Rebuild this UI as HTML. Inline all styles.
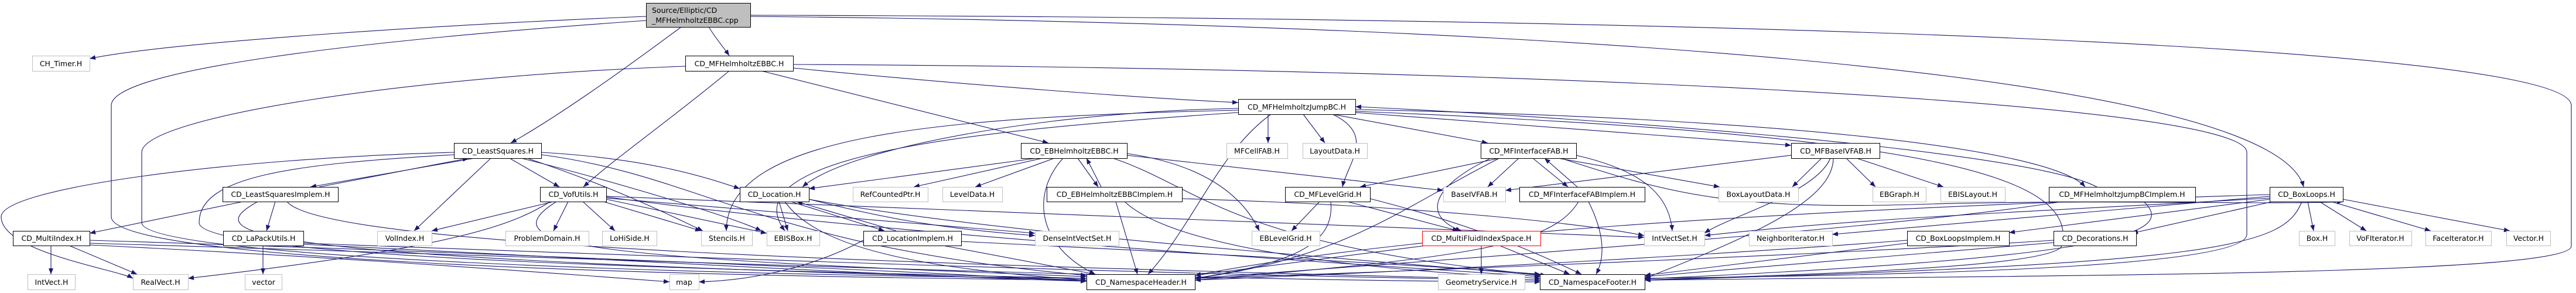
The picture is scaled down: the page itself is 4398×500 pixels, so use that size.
<!DOCTYPE html>
<html><head><meta charset="utf-8"><style>
html,body{margin:0;padding:0;background:#fff;}
svg{display:block;}
text{font-family:"DejaVu Sans","Liberation Sans",sans-serif;font-size:12.5px;fill:#000;}
.e{fill:none;stroke:#191970;stroke-width:1.1;marker-end:url(#a);}
.d{fill:#fff;stroke:#000;stroke-width:1;}
.g{fill:#fff;stroke:#bfbfbf;stroke-width:1;}
.r{fill:#fff;stroke:#ff0000;stroke-width:1;}
</style></head><body>
<svg width="4398" height="500" viewBox="0 0 4398 500" xmlns="http://www.w3.org/2000/svg">
<defs><marker id="a" markerUnits="userSpaceOnUse" markerWidth="12" markerHeight="10" refX="10" refY="4" orient="auto"><path d="M0,0 L10,4 L0,8 z" fill="#191970"/></marker></defs>
<g>
<path class="e" d="M1103,28 C800,40 300,70 153,100"/>
<path class="e" d="M1210,46 C1225,70 1235,80 1245,95"/>
<path class="e" d="M1163,46 C1050,130 950,200 872,244"/>
<path class="e" d="M1103,35 C600,70 190,120 190,180 L190,370 C190,440 1000,470 1855,478"/>
<path class="e" d="M1281,28 C2600,40 3880,120 3933,319"/>
<path class="e" d="M1281,26 C3000,30 4390,80 4390,180 L4390,420 C4390,470 3500,470 2808,478"/>
<path class="e" d="M1354,116 C1700,150 2000,170 2114,175"/>
<path class="e" d="M1300,121 L1790,244"/>
<path class="e" d="M1245,121 C1150,200 1050,270 996,319"/>
<path class="e" d="M1170,113 C700,130 242,200 242,260 L242,380 C242,440 1200,470 1855,475"/>
<path class="e" d="M1354,110 C2500,115 3836,170 3836,260 L3836,400 C3836,460 3200,470 2808,475"/>
<path class="e" d="M2165,195 L2165,244"/>
<path class="e" d="M2225,195 L2262,244"/>
<path class="e" d="M2275,195 C2350,230 2300,280 2292,319"/>
<path class="e" d="M2275,195 L2540,244"/>
<path class="e" d="M2314,192 L3058,248"/>
<path class="e" d="M2314,187 C3000,200 3500,250 3560,319"/>
<path class="e" d="M3580,319 C3450,250 2600,195 2314,182"/>
<path class="e" d="M2170,195 C2080,260 2040,380 1960,468"/>
<path class="e" d="M2114,185 C1800,190 1450,250 1370,319"/>
<path class="e" d="M2114,188 C1600,200 1240,230 1240,394"/>
<path class="e" d="M2114,192 C1700,220 1240,260 1340,394"/>
<path class="e" d="M924,260 C1100,270 1200,300 1263,322"/>
<path class="e" d="M2314,190 C3300,230 3550,300 3520,420 C3500,460 3000,470 2808,478"/>
<path class="e" d="M1924,265 L2464,325"/>
<path class="e" d="M1770,270 L1381,322"/>
<path class="e" d="M1780,270 L1560,319"/>
<path class="e" d="M1800,270 L1665,319"/>
<path class="e" d="M1840,270 L1875,319"/>
<path class="e" d="M1880,319 L1855,270"/>
<path class="e" d="M1815,270 C1760,330 1770,420 1870,468"/>
<path class="e" d="M1924,262 C2050,280 2120,330 2150,394"/>
<path class="e" d="M1900,270 C2050,320 2100,420 2640,470"/>
<path class="e" d="M1905,344 L1942,468"/>
<path class="e" d="M1920,344 C2000,420 2300,460 2630,475"/>
<path class="e" d="M2018,339 C2400,350 2700,380 2807,402"/>
<path class="e" d="M810,270 L530,319"/>
<path class="e" d="M545,319 L800,270"/>
<path class="e" d="M870,270 L955,319"/>
<path class="e" d="M838,270 L707,394"/>
<path class="e" d="M900,270 C1050,320 1150,370 1200,394"/>
<path class="e" d="M890,270 C1050,310 1250,370 1300,394"/>
<path class="e" d="M775,260 C400,270 2,320 2,370 C2,430 200,460 227,475"/>
<path class="e" d="M775,264 C500,280 340,300 340,380 C340,440 1200,460 1855,475"/>
<path class="e" d="M924,264 C1200,300 1300,420 1855,470"/>
<path class="e" d="M945,344 L737,394"/>
<path class="e" d="M970,344 L945,394"/>
<path class="e" d="M995,344 L1050,394"/>
<path class="e" d="M1030,344 L1197,394"/>
<path class="e" d="M1035,340 L1309,398"/>
<path class="e" d="M940,344 C880,380 800,420 321,475"/>
<path class="e" d="M950,344 C830,420 1000,440 1855,472"/>
<path class="e" d="M1035,336 C1500,400 2300,450 2630,472"/>
<path class="e" d="M1035,338 L1767,398"/>
<path class="e" d="M1035,335 C1800,360 2500,390 2807,405"/>
<path class="e" d="M1330,344 L1345,394"/>
<path class="e" d="M1350,344 L1510,394"/>
<path class="e" d="M1530,394 L1360,344"/>
<path class="e" d="M1340,344 C1400,430 1600,460 1855,478"/>
<path class="e" d="M1381,340 C1700,400 2300,440 2630,470"/>
<path class="e" d="M1381,340 C1500,370 1600,390 1767,402"/>
<path class="e" d="M1610,419 L1870,468"/>
<path class="e" d="M1641,412 C2000,430 2400,450 2630,468"/>
<path class="e" d="M1474,410 C1400,450 1300,478 1193,481"/>
<path class="e" d="M415,344 L153,398"/>
<path class="e" d="M470,344 L455,394"/>
<path class="e" d="M440,344 C340,400 380,440 1855,478"/>
<path class="e" d="M490,344 C550,420 1500,450 2630,478"/>
<path class="e" d="M87,419 L87,468"/>
<path class="e" d="M118,419 L234,468"/>
<path class="e" d="M153,410 C800,430 1500,460 1855,480"/>
<path class="e" d="M153,415 C1000,440 2000,480 2630,481"/>
<path class="e" d="M153,418 C600,440 1000,470 1143,481"/>
<path class="e" d="M449,419 L449,468"/>
<path class="e" d="M518,417 C1000,440 1500,470 1855,480"/>
<path class="e" d="M518,415 C1200,440 2000,470 2630,478"/>
<path class="e" d="M2560,270 L2322,319"/>
<path class="e" d="M2593,270 L2540,319"/>
<path class="e" d="M2617,270 L2677,319"/>
<path class="e" d="M2693,319 L2637,270"/>
<path class="e" d="M2660,270 L2936,319"/>
<path class="e" d="M2545,270 C2440,320 2430,370 2495,394"/>
<path class="e" d="M2691,265 C2800,290 2850,330 2855,394"/>
<path class="e" d="M2560,270 C2400,350 2300,440 2040,475"/>
<path class="e" d="M2665,270 C2850,330 2950,360 3300,348 C3600,340 3900,350 4000,344"/>
<path class="e" d="M2695,344 C2650,420 2500,440 2040,478"/>
<path class="e" d="M2712,344 C2740,400 2740,440 2725,468"/>
<path class="e" d="M2253,344 L2205,394"/>
<path class="e" d="M2300,344 L2490,394"/>
<path class="e" d="M2272,344 C2280,420 2200,450 2040,475"/>
<path class="e" d="M2339,339 C2500,380 2600,420 2700,468"/>
<path class="e" d="M3058,265 L2570,325"/>
<path class="e" d="M3110,270 L3060,319"/>
<path class="e" d="M3152,270 L3202,319"/>
<path class="e" d="M3170,270 L3318,319"/>
<path class="e" d="M3125,270 C3100,330 2950,370 2910,398"/>
<path class="e" d="M3130,270 C3130,340 3000,400 2808,475"/>
<path class="e" d="M2529,419 L2529,468"/>
<path class="e" d="M2560,419 L2680,468"/>
<path class="e" d="M2435,419 L2040,470"/>
<path class="e" d="M3940,344 L3950,394"/>
<path class="e" d="M3960,344 L4040,394"/>
<path class="e" d="M3980,344 L4150,394"/>
<path class="e" d="M4000,340 L4285,394"/>
<path class="e" d="M3880,344 L3640,398"/>
<path class="e" d="M3875,340 L3430,397"/>
<path class="e" d="M3875,335 L3128,400"/>
<path class="e" d="M3875,338 C3500,360 3200,370 2910,402"/>
<path class="e" d="M3875,332 C3000,360 2400,400 2040,470"/>
<path class="e" d="M3930,344 C3900,420 3800,450 2808,478"/>
<path class="e" d="M3256,410 C3000,430 2500,460 2040,478"/>
<path class="e" d="M3256,415 L2808,470"/>
<path class="e" d="M3506,410 C3200,430 2500,460 2040,475"/>
<path class="e" d="M3506,414 L2808,472"/>
<path class="e" d="M3520,344 C3300,380 2800,420 2040,475"/>
<path class="e" d="M3660,344 C3720,400 3600,440 2808,476"/>
</g>
<g>
<rect x="1103.5" y="5.5" width="178" height="41" fill="#bfbfbf" stroke="#000"/>
<text x="1113" y="22">Source/Elliptic/CD</text>
<text x="1113" y="39">_MFHelmholtzEBBC.cpp</text>
</g>
<g text-anchor="middle">
<rect class="g" x="55.5" y="95.5" width="98" height="26"/><text x="104" y="113">CH_Timer.H</text>
<rect class="d" x="1170.5" y="95.5" width="184" height="26"/><text x="1262" y="113">CD_MFHelmholtzEBBC.H</text>
<rect class="d" x="2114.5" y="169.5" width="200" height="26"/><text x="2214" y="187">CD_MFHelmholtzJumpBC.H</text>
<rect class="d" x="775.5" y="244.5" width="149" height="26"/><text x="850" y="262">CD_LeastSquares.H</text>
<rect class="d" x="1743.5" y="244.5" width="181" height="26"/><text x="1834" y="262">CD_EBHelmholtzEBBC.H</text>
<rect class="g" x="2094.5" y="244.5" width="104" height="26"/><text x="2146" y="262">MFCellFAB.H</text>
<rect class="g" x="2224.5" y="244.5" width="110" height="26"/><text x="2279" y="262">LayoutData.H</text>
<rect class="d" x="2528.5" y="244.5" width="163" height="26"/><text x="2610" y="262">CD_MFInterfaceFAB.H</text>
<rect class="d" x="3058.5" y="244.5" width="151" height="26"/><text x="3134" y="262">CD_MFBaseIVFAB.H</text>
<rect class="d" x="380.5" y="319.5" width="197" height="25"/><text x="479" y="336">CD_LeastSquaresImplem.H</text>
<rect class="d" x="922.5" y="319.5" width="113" height="25"/><text x="979" y="336">CD_VofUtils.H</text>
<rect class="d" x="1263.5" y="319.5" width="118" height="25"/><text x="1322" y="336">CD_Location.H</text>
<rect class="g" x="1456.5" y="319.5" width="128" height="25"/><text x="1520" y="336">RefCountedPtr.H</text>
<rect class="g" x="1609.5" y="319.5" width="102" height="25"/><text x="1660" y="336">LevelData.H</text>
<rect class="d" x="1787.5" y="319.5" width="231" height="25"/><text x="1903" y="336">CD_EBHelmholtzEBBCImplem.H</text>
<rect class="d" x="2194.5" y="319.5" width="145" height="25"/><text x="2267" y="336">CD_MFLevelGrid.H</text>
<rect class="g" x="2464.5" y="319.5" width="106" height="25"/><text x="2517" y="336">BaseIVFAB.H</text>
<rect class="d" x="2594.5" y="319.5" width="214" height="25"/><text x="2701" y="336">CD_MFInterfaceFABImplem.H</text>
<rect class="g" x="2934.5" y="319.5" width="136" height="25"/><text x="3002" y="336">BoxLayoutData.H</text>
<rect class="g" x="3197.5" y="319.5" width="91" height="25"/><text x="3243" y="336">EBGraph.H</text>
<rect class="g" x="3313.5" y="319.5" width="110" height="25"/><text x="3368" y="336">EBISLayout.H</text>
<rect class="d" x="3498.5" y="319.5" width="250" height="25"/><text x="3623" y="336">CD_MFHelmholtzJumpBCImplem.H</text>
<rect class="d" x="3875.5" y="319.5" width="125" height="25"/><text x="3938" y="336">CD_BoxLoops.H</text>
<rect class="d" x="22.5" y="394.5" width="131" height="25"/><text x="88" y="411">CD_MultiIndex.H</text>
<rect class="d" x="381.5" y="394.5" width="137" height="25"/><text x="450" y="411">CD_LaPackUtils.H</text>
<rect class="g" x="644.5" y="394.5" width="93" height="25"/><text x="691" y="411">VolIndex.H</text>
<rect class="g" x="863.5" y="394.5" width="142" height="25"/><text x="934" y="411">ProblemDomain.H</text>
<rect class="g" x="1028.5" y="394.5" width="93" height="25"/><text x="1075" y="411">LoHiSide.H</text>
<rect class="g" x="1197.5" y="394.5" width="87" height="25"/><text x="1241" y="411">Stencils.H</text>
<rect class="g" x="1309.5" y="394.5" width="90" height="25"/><text x="1354" y="411">EBISBox.H</text>
<rect class="d" x="1474.5" y="394.5" width="167" height="25"/><text x="1558" y="411">CD_LocationImplem.H</text>
<rect class="g" x="1767.5" y="394.5" width="143" height="25"/><text x="1839" y="411">DenseIntVectSet.H</text>
<rect class="g" x="2137.5" y="394.5" width="116" height="25"/><text x="2195" y="411">EBLevelGrid.H</text>
<rect class="r" x="2428.5" y="394.5" width="202" height="25"/><text x="2529" y="411">CD_MultiFluidIndexSpace.H</text>
<rect class="g" x="2807.5" y="394.5" width="103" height="25"/><text x="2859" y="411">IntVectSet.H</text>
<rect class="g" x="2986.5" y="394.5" width="142" height="25"/><text x="3057" y="411">NeighborIterator.H</text>
<rect class="d" x="3256.5" y="394.5" width="174" height="25"/><text x="3343" y="411">CD_BoxLoopsImplem.H</text>
<rect class="d" x="3506.5" y="394.5" width="141" height="25"/><text x="3577" y="411">CD_Decorations.H</text>
<rect class="g" x="3925.5" y="394.5" width="61" height="25"/><text x="3956" y="411">Box.H</text>
<rect class="g" x="4011.5" y="394.5" width="106" height="25"/><text x="4064" y="411">VoFIterator.H</text>
<rect class="g" x="4141.5" y="394.5" width="112" height="25"/><text x="4197" y="411">FaceIterator.H</text>
<rect class="g" x="4279.5" y="394.5" width="75" height="25"/><text x="4317" y="411">Vector.H</text>
<rect class="g" x="47.5" y="468.5" width="81" height="26"/><text x="88" y="486">IntVect.H</text>
<rect class="g" x="227.5" y="468.5" width="94" height="26"/><text x="274" y="486">RealVect.H</text>
<rect class="g" x="418.5" y="468.5" width="63" height="26"/><text x="450" y="486">vector</text>
<rect class="g" x="1143.5" y="468.5" width="50" height="26"/><text x="1168" y="486">map</text>
<rect class="g" x="2455.5" y="468.5" width="148" height="26"/><text x="2529" y="486">GeometryService.H</text>
<rect class="d" x="1855.5" y="468.5" width="185" height="26"/><text x="1948" y="486">CD_NamespaceHeader.H</text>
<rect class="d" x="2629.5" y="468.5" width="179" height="26"/><text x="2719" y="486">CD_NamespaceFooter.H</text>
</g>
</svg>
</body></html>
